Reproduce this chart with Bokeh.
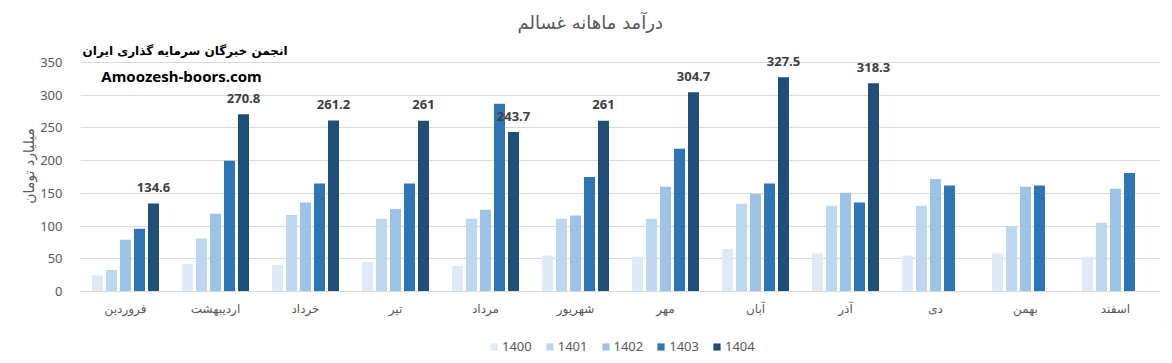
from bokeh.plotting import figure
from bokeh.models import (ColumnDataSource, FactorRange, Range1d, Legend, LegendItem,
                          Label, FixedTicker, Title)
from bokeh.layouts import column
from bokeh.transform import dodge
from bokeh.core.properties import value
from bokeh.embed import file_html
from bokeh.resources import INLINE

months = ["فروردین", "اردیبهشت", "خرداد", "تیر", "مرداد", "شهریور",
          "مهر", "آبان", "آذر", "دی", "بهمن", "اسفند"]
years = ["1400", "1401", "1402", "1403", "1404"]

y1400 = [25, 42, 41, 45, 39, 55, 53, 65, 58, 55, 58, 53]
y1401 = [33, 81, 117, 111, 111, 111, 111, 134, 131, 131, 99, 105]
y1402 = [79, 119, 136, 126, 125, 116, 160, 149, 151, 172, 160, 157]
y1403 = [96, 200, 165, 165, 287, 175, 218, 165, 136, 162, 162, 181]
y1404 = [134.6, 270.8, 261.2, 261, 243.7, 261, 304.7, 327.5, 318.3, None, None, None]

series = [y1400, y1401, y1402, y1403, y1404]
colors = ["#deebf7", "#bdd7ee", "#9dc3e6", "#2e75b6", "#1f4e79"]

title_text = "درآمد ماهانه غسالم"
wm1 = "انجمن خبرگان سرمایه گذاری ایران"
wm2 = "Amoozesh-boors.com"
y_label = "میلیارد تومان"

W, H = 1164, 325
TOP, BOT, LEFT, RIGHT = 40, 34, 80, 4
frame_h = H - TOP - BOT
px_per_unit = (frame_h - 22) / 350.0
y_end = 350 + 22 / px_per_unit

p = figure(width=W, height=H, x_range=FactorRange(*months), y_range=Range1d(0, y_end),
           output_backend="svg", toolbar_location=None,
           min_border_left=LEFT, min_border_right=RIGHT, min_border_top=TOP,
           min_border_bottom=BOT)
p.outline_line_color = None
p.background_fill_color = "white"
p.border_fill_color = "white"

step = 14 / 90.0
bw = 11 / 90.0
offsets = [-2 * step, -step, 0, step, 2 * step]

for yr, vals, col, off in zip(years, series, colors, offsets):
    xs = [m for m, v in zip(months, vals) if v is not None]
    vs = [v for v in vals if v is not None]
    src = ColumnDataSource(dict(month=xs, val=vs))
    p.vbar(x=dodge("month", off, range=p.x_range), top="val", width=bw,
           source=src, fill_color=col, line_color=None)
    if yr == "1404":
        src2 = ColumnDataSource(dict(month=xs, val=vs, lab=[("%g" % v) for v in vs]))
        p.text(x=dodge("month", off, range=p.x_range), y="val", text="lab", source=src2,
               text_align="center", text_baseline="middle", y_offset=-16,
               text_font=value("Noto Sans"), text_font_style="bold",
               text_font_size="13px", text_color="#404040")

# axes
p.xaxis.axis_line_color = "#d9d9d9"
p.xaxis.major_tick_line_color = None
p.xaxis.minor_tick_line_color = None
p.xaxis.major_label_text_font = "DejaVu Sans"
p.xaxis.major_label_text_font_size = "12px"
p.xaxis.major_label_text_color = "#595959"
p.xaxis.major_label_standoff = 4
p.xgrid.grid_line_color = None

p.yaxis.ticker = FixedTicker(ticks=[0, 50, 100, 150, 200, 250, 300, 350])
p.yaxis.axis_line_color = None
p.yaxis.major_tick_line_color = None
p.yaxis.minor_tick_line_color = None
p.yaxis.major_label_text_font = "Noto Sans"
p.yaxis.major_label_text_font_size = "13px"
p.yaxis.major_label_text_color = "#595959"
p.yaxis.major_label_standoff = 12
p.yaxis.axis_label = y_label
p.yaxis.axis_label_text_font = "DejaVu Sans"
p.yaxis.axis_label_text_font_style = "normal"
p.yaxis.axis_label_text_font_size = "14px"
p.yaxis.axis_label_text_color = "#595959"
p.yaxis.axis_label_standoff = 0
p.ygrid.grid_line_color = "#d9d9d9"
p.ygrid.grid_line_width = 1

# main title above the frame
p.add_layout(Title(text=title_text, align="left", offset=437, standoff=15,
                   text_font="DejaVu Sans", text_font_style="normal",
                   text_font_size="18px", text_color="#595959"), "above")

# watermark labels inside frame (data coords)
cat = 90.0
def xu(page_x):
    return (page_x - LEFT) / cat
def yu(page_y):
    return (TOP + frame_h - page_y) / px_per_unit

p.add_layout(Label(x=xu(287), y=yu(50), text=wm1, text_align="right",
                   text_baseline="middle", text_font="DejaVu Sans", text_font_style="bold",
                   text_font_size="12px", text_color="#000000"))
p.add_layout(Label(x=xu(181), y=yu(75), text=wm2, text_align="center",
                   text_baseline="middle", text_font="Noto Sans", text_font_style="bold",
                   text_font_size="15px", text_color="#000000"))

# legend strip below (its frame is aligned with the main frame, left = 80)
lf = figure(width=W, height=32, x_range=Range1d(0, 1), y_range=Range1d(0, 1),
            output_backend="svg", toolbar_location=None, min_border=0,
            x_axis_location=None, y_axis_location=None)
lf.grid.visible = False
lf.outline_line_color = None
items = []
for yr, col in zip(years, colors):
    # swatch proxies placed outside the visible range
    r = lf.vbar(x=[5], top=[5], bottom=[4], width=0.1, fill_color=col, line_color=None)
    items.append(LegendItem(label=yr, renderers=[r]))
legend = Legend(items=items, orientation="horizontal", location=(409, 2),
                glyph_width=9, glyph_height=9, label_standoff=4, spacing=13,
                label_text_font="Noto Sans", label_text_font_size="13px",
                label_text_color="#595959", border_line_color=None,
                background_fill_alpha=0, padding=2, margin=0)
lf.add_layout(legend, "center")

layout = column(p, lf, spacing=0)
open("out.html", "w").write(file_html(layout, INLINE))
